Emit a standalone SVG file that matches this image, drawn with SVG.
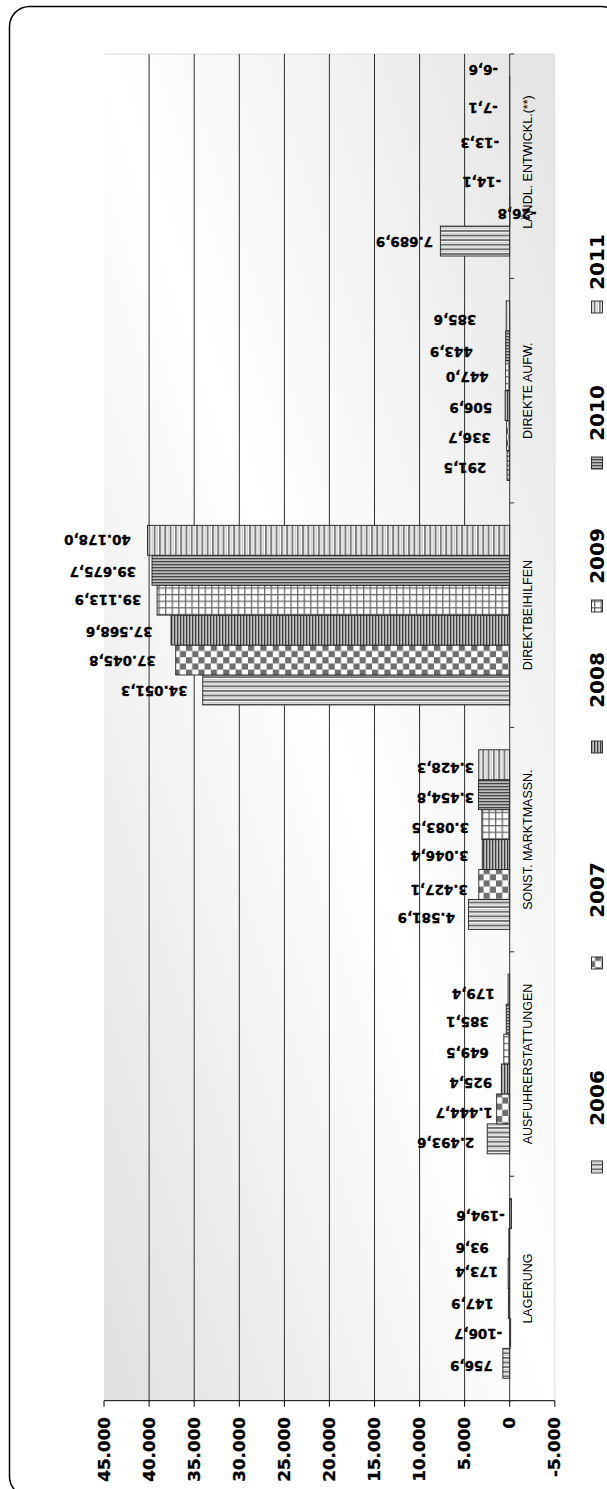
<svg xmlns="http://www.w3.org/2000/svg" width="607" height="1489" viewBox="0 0 607 1489">
<style>
.v{font-family:"DejaVu Sans",sans-serif;font-weight:bold;font-size:13.5px;text-anchor:middle;fill:#000;stroke:#000;stroke-width:0.3}
.c{font-family:"Liberation Sans",Arial,sans-serif;font-size:12.5px;text-anchor:middle;fill:#000}
.a{font-family:"DejaVu Sans",sans-serif;font-weight:bold;font-size:15px;text-anchor:end;fill:#000;stroke:#000;stroke-width:0.3}
.l{font-family:"DejaVu Sans",sans-serif;font-weight:bold;font-size:20px;text-anchor:middle;fill:#000}
.g{stroke:#2e2e2e;stroke-width:1}
.b{stroke:#222;stroke-width:0.9}
.y06{fill:url(#p06)}.y07{fill:url(#p07)}.y08{fill:url(#p08)}.y09{fill:url(#p09)}.y10{fill:url(#p10)}.y11{fill:url(#p11)}
</style>
<defs>
<linearGradient id="bg" x1="0" y1="1" x2="1" y2="0">
<stop offset="0" stop-color="#e0e0e0"/><stop offset="0.5" stop-color="#ffffff"/><stop offset="1" stop-color="#e4e4e4"/>
</linearGradient>
<pattern id="p06" patternUnits="userSpaceOnUse" width="6" height="4.6"><rect width="6" height="4.6" fill="#fff"/><rect y="0" width="6" height="1.9" fill="#6e6e6e"/><rect y="3.1" width="6" height="0.7" fill="#a8a8a8"/></pattern>
<pattern id="p07" patternUnits="userSpaceOnUse" width="12.4" height="12.4"><rect width="12.4" height="12.4" fill="#fff"/><rect width="6.2" height="6.2" fill="#6e6e6e"/><rect x="6.2" y="6.2" width="6.2" height="6.2" fill="#6e6e6e"/></pattern>
<pattern id="p08" patternUnits="userSpaceOnUse" width="3" height="6"><rect width="3" height="6" fill="#c4c4c4"/><rect width="1.3" height="6" fill="#3c3c3c"/></pattern>
<pattern id="p09" patternUnits="userSpaceOnUse" width="6.6" height="6.6"><rect width="6.6" height="6.6" fill="#6a6a6a"/><rect x="1.3" y="1.3" width="5.3" height="5.3" fill="#fff"/></pattern>
<pattern id="p10" patternUnits="userSpaceOnUse" width="6" height="3"><rect width="6" height="3" fill="#bdbdbd"/><rect width="6" height="1.3" fill="#454545"/></pattern>
<pattern id="p11" patternUnits="userSpaceOnUse" width="5.3" height="6"><rect width="5.3" height="6" fill="#fff"/><rect width="2" height="6" fill="#7d7d7d"/><rect x="3.3" width="0.8" height="6" fill="#b0b0b0"/></pattern>
</defs>

<rect x="9.5" y="6.5" width="612" height="1490" rx="20" ry="20" fill="#fff" stroke="#000" stroke-width="1.5"/>

<g id="plot-area">
<rect x="104" y="54" width="450.8" height="1346.7" fill="url(#bg)"/>
<line x1="104" y1="54" x2="554.8" y2="54" stroke="#dcdcdc"/>
<line x1="554.8" y1="54" x2="554.8" y2="1400.7" stroke="#dcdcdc"/>
</g>

<g id="gridlines">
<line class="g" x1="149.1" y1="54" x2="149.1" y2="1400.7"/>
<line class="g" x1="194.2" y1="54" x2="194.2" y2="1400.7"/>
<line class="g" x1="239.3" y1="54" x2="239.3" y2="1400.7"/>
<line class="g" x1="284.4" y1="54" x2="284.4" y2="1400.7"/>
<line class="g" x1="329.4" y1="54" x2="329.4" y2="1400.7"/>
<line class="g" x1="374.5" y1="54" x2="374.5" y2="1400.7"/>
<line class="g" x1="419.6" y1="54" x2="419.6" y2="1400.7"/>
<line class="g" x1="464.6" y1="54" x2="464.6" y2="1400.7"/>
</g>

<g id="cat-laendl">
<rect class="b y06" x="440.37" y="226.09" width="69.33" height="29.93"/>
<rect class="b y07" x="509.7" y="196.16" width="0.24" height="29.93"/>
<rect class="b y08" x="509.7" y="166.23" width="0.13" height="29.93"/>
<rect class="b y09" x="509.7" y="136.3" width="0.12" height="29.93"/>
<rect class="b y10" x="509.7" y="106.37" width="0.06" height="29.93"/>
<rect class="b y11" x="509.7" y="76.44" width="0.06" height="29.93"/>
<text class="c" transform="translate(531.5,162) rotate(-90)">LÄNDL. ENTWICKL.(**)</text>
<text class="v" transform="translate(404.5,241.4) rotate(180)" dy=".36em">7.689,9</text>
<text class="v" transform="translate(517,214) rotate(180)" dy=".36em">-26,8</text>
<text class="v" transform="translate(481.7,182) rotate(180)" dy=".36em">-14,1</text>
<text class="v" transform="translate(479.7,143) rotate(180)" dy=".36em">-13,3</text>
<text class="v" transform="translate(483,108) rotate(180)" dy=".36em">-7,1</text>
<text class="v" transform="translate(483.3,70) rotate(180)" dy=".36em">-6,6</text>
</g>

<g id="cat-direkte-aufw">
<rect class="b y06" x="507.07" y="450.54" width="2.63" height="29.93"/>
<rect class="b y07" x="506.66" y="420.61" width="3.04" height="29.93"/>
<rect class="b y08" x="505.13" y="390.68" width="4.57" height="29.93"/>
<rect class="b y09" x="505.67" y="360.75" width="4.03" height="29.93"/>
<rect class="b y10" x="505.7" y="330.82" width="4.0" height="29.93"/>
<rect class="b y11" x="506.22" y="300.89" width="3.48" height="29.93"/>
<text class="c" transform="translate(531.5,390.7) rotate(-90)">DIREKTE AUFW.</text>
<text class="v" transform="translate(465,468.3) rotate(180)" dy=".36em">291,5</text>
<text class="v" transform="translate(469.5,438.3) rotate(180)" dy=".36em">336,7</text>
<text class="v" transform="translate(470.8,408.3) rotate(180)" dy=".36em">506,9</text>
<text class="v" transform="translate(467.2,376.7) rotate(180)" dy=".36em">447,0</text>
<text class="v" transform="translate(451.3,352) rotate(180)" dy=".36em">443,9</text>
<text class="v" transform="translate(455,319.5) rotate(180)" dy=".36em">385,6</text>
</g>

<g id="cat-direktbeihilfen">
<rect class="b y06" x="202.73" y="674.99" width="306.97" height="29.93"/>
<rect class="b y07" x="175.73" y="645.06" width="333.97" height="29.93"/>
<rect class="b y08" x="171.02" y="615.13" width="338.68" height="29.93"/>
<rect class="b y09" x="157.09" y="585.2" width="352.61" height="29.93"/>
<rect class="b y10" x="152.02" y="555.27" width="357.68" height="29.93"/>
<rect class="b y11" x="147.5" y="525.34" width="362.2" height="29.93"/>
<text class="c" transform="translate(531.5,615.1) rotate(-90)">DIREKTBEIHILFEN</text>
<text class="v" transform="translate(154.2,691) rotate(180)" dy=".36em">34.051,3</text>
<text class="v" transform="translate(122.5,660.8) rotate(180)" dy=".36em">37.045,8</text>
<text class="v" transform="translate(119.2,632.3) rotate(180)" dy=".36em">37.568,6</text>
<text class="v" transform="translate(108,600) rotate(180)" dy=".36em">39.113,9</text>
<text class="v" transform="translate(102.8,572) rotate(180)" dy=".36em">39.675,7</text>
<text class="v" transform="translate(97.5,540) rotate(180)" dy=".36em">40.178,0</text>
</g>

<g id="cat-sonst-marktmassn">
<rect class="b y06" x="468.39" y="899.44" width="41.31" height="29.93"/>
<rect class="b y07" x="478.8" y="869.51" width="30.9" height="29.93"/>
<rect class="b y08" x="482.24" y="839.58" width="27.46" height="29.93"/>
<rect class="b y09" x="481.9" y="809.65" width="27.8" height="29.93"/>
<rect class="b y10" x="478.55" y="779.72" width="31.15" height="29.93"/>
<rect class="b y11" x="478.79" y="749.79" width="30.91" height="29.93"/>
<text class="c" transform="translate(531.5,839.6) rotate(-90)">SONST. MARKTMASSN.</text>
<text class="v" transform="translate(426.3,917.5) rotate(180)" dy=".36em">4.581,9</text>
<text class="v" transform="translate(439.2,890) rotate(180)" dy=".36em">3.427,1</text>
<text class="v" transform="translate(439.8,855.7) rotate(180)" dy=".36em">3.046,4</text>
<text class="v" transform="translate(440.3,828.3) rotate(180)" dy=".36em">3.083,5</text>
<text class="v" transform="translate(445.5,798.3) rotate(180)" dy=".36em">3.454,8</text>
<text class="v" transform="translate(445.5,768.3) rotate(180)" dy=".36em">3.428,3</text>
</g>

<g id="cat-ausfuhrerstattungen">
<rect class="b y06" x="487.22" y="1123.89" width="22.48" height="29.93"/>
<rect class="b y07" x="496.68" y="1093.96" width="13.02" height="29.93"/>
<rect class="b y08" x="501.36" y="1064.03" width="8.34" height="29.93"/>
<rect class="b y09" x="503.84" y="1034.1" width="5.86" height="29.93"/>
<rect class="b y10" x="506.23" y="1004.17" width="3.47" height="29.93"/>
<rect class="b y11" x="508.08" y="974.24" width="1.62" height="29.93"/>
<text class="c" transform="translate(531.5,1064) rotate(-90)">AUSFUHRERSTATTUNGEN</text>
<text class="v" transform="translate(445.7,1143.3) rotate(180)" dy=".36em">2.493,6</text>
<text class="v" transform="translate(464.2,1113.3) rotate(180)" dy=".36em">1.444,7</text>
<text class="v" transform="translate(470.8,1083.3) rotate(180)" dy=".36em">925,4</text>
<text class="v" transform="translate(467.5,1053.3) rotate(180)" dy=".36em">649,5</text>
<text class="v" transform="translate(467.5,1021.7) rotate(180)" dy=".36em">385,1</text>
<text class="v" transform="translate(473.3,993.8) rotate(180)" dy=".36em">179,4</text>
</g>

<g id="cat-lagerung">
<rect class="b y06" x="502.88" y="1348.34" width="6.82" height="29.93"/>
<rect class="b y07" x="509.7" y="1318.41" width="0.96" height="29.93"/>
<rect class="b y08" x="508.37" y="1288.48" width="1.33" height="29.93"/>
<rect class="b y09" x="508.14" y="1258.55" width="1.56" height="29.93"/>
<rect class="b y10" x="508.86" y="1228.62" width="0.84" height="29.93"/>
<rect class="b y11" x="509.7" y="1198.69" width="1.75" height="29.93"/>
<text class="c" transform="translate(531.5,1288.5) rotate(-90)">LAGERUNG</text>
<text class="v" transform="translate(471.4,1366) rotate(180)" dy=".36em">756,9</text>
<text class="v" transform="translate(478.2,1334.3) rotate(180)" dy=".36em">-106,7</text>
<text class="v" transform="translate(472.5,1303.8) rotate(180)" dy=".36em">147,9</text>
<text class="v" transform="translate(476.7,1272) rotate(180)" dy=".36em">173,4</text>
<text class="v" transform="translate(472.2,1248) rotate(180)" dy=".36em">93,6</text>
<text class="v" transform="translate(480.5,1216.2) rotate(180)" dy=".36em">-194,6</text>
</g>

<g id="axes" stroke="#000" stroke-width="1">
<line x1="509.7" y1="54" x2="509.7" y2="1400.7" stroke="#333"/>
<line x1="104" y1="1400.7" x2="554.8" y2="1400.7"/>
<path d="M104 1400.7v6M149.1 1400.7v6M194.2 1400.7v6M239.3 1400.7v6M284.4 1400.7v6M329.4 1400.7v6M374.5 1400.7v6M419.6 1400.7v6M464.6 1400.7v6M509.7 1400.7v6M554.8 1400.7v6"/>
<path d="M509.7 54h4.5M509.7 278.45h4.5M509.7 502.9h4.5M509.7 727.35h4.5M509.7 951.8h4.5M509.7 1176.25h4.5M509.7 1400.7h4.5" stroke="#333"/>
</g>

<g id="axis-labels">
<text class="a" transform="translate(109.5,1417) rotate(-90) scale(1.12,1)">45.000</text>
<text class="a" transform="translate(154.6,1417) rotate(-90) scale(1.12,1)">40.000</text>
<text class="a" transform="translate(199.7,1417) rotate(-90) scale(1.12,1)">35.000</text>
<text class="a" transform="translate(244.8,1417) rotate(-90) scale(1.12,1)">30.000</text>
<text class="a" transform="translate(289.9,1417) rotate(-90) scale(1.12,1)">25.000</text>
<text class="a" transform="translate(334.9,1417) rotate(-90) scale(1.12,1)">20.000</text>
<text class="a" transform="translate(380,1417) rotate(-90) scale(1.12,1)">15.000</text>
<text class="a" transform="translate(425.1,1417) rotate(-90) scale(1.12,1)">10.000</text>
<text class="a" transform="translate(470.1,1417) rotate(-90) scale(1.12,1)">5.000</text>
<text class="a" transform="translate(515.2,1417) rotate(-90) scale(1.12,1)">0</text>
<text class="a" transform="translate(560.3,1417) rotate(-90) scale(1.12,1)">-5.000</text>
</g>

<g id="legend">
<g id="leg-2006"><rect class="b y06" x="591.5" y="1161" width="11" height="12"/><text class="l" transform="translate(604,1098) rotate(-90)">2006</text></g>
<g id="leg-2007"><rect class="b y07" x="591.5" y="957" width="11" height="12"/><text class="l" transform="translate(604,890) rotate(-90)">2007</text></g>
<g id="leg-2008"><rect class="b y08" x="591.5" y="741" width="11" height="12"/><text class="l" transform="translate(604,680) rotate(-90)">2008</text></g>
<g id="leg-2009"><rect class="b y09" x="591.5" y="600" width="11" height="12"/><text class="l" transform="translate(604,556) rotate(-90)">2009</text></g>
<g id="leg-2010"><rect class="b y10" x="591.5" y="457" width="11" height="12"/><text class="l" transform="translate(604,413) rotate(-90)">2010</text></g>
<g id="leg-2011"><rect class="b y11" x="591.5" y="301" width="11" height="12"/><text class="l" transform="translate(604,262) rotate(-90)">2011</text></g>
</g>
</svg>
